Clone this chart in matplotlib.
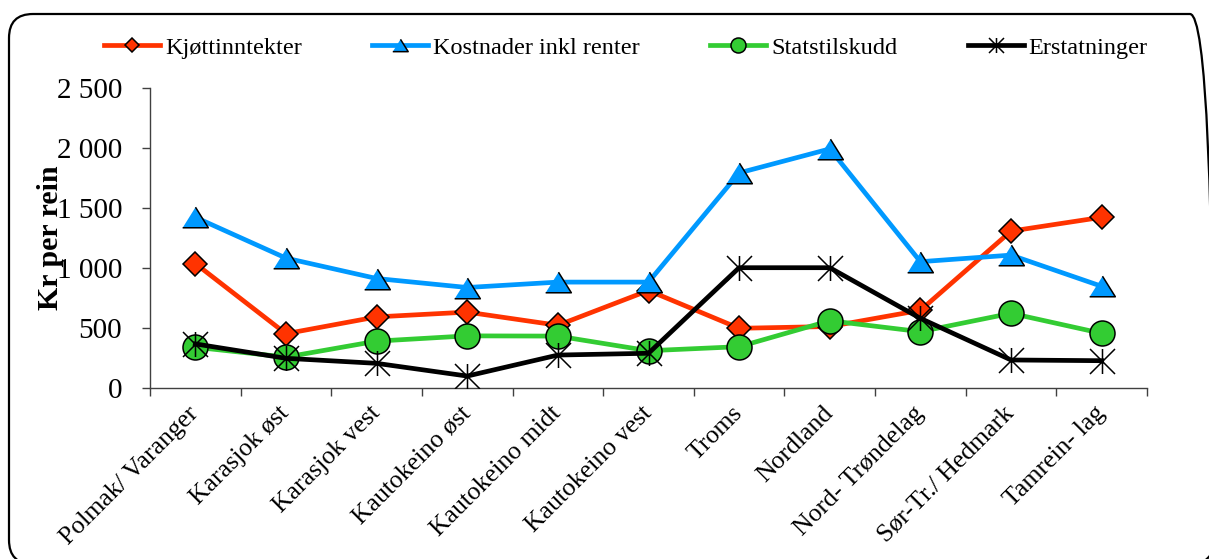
import matplotlib
matplotlib.use("Agg")
import matplotlib.pyplot as plt
from matplotlib.patches import FancyBboxPatch
from matplotlib.path import Path
from matplotlib.ticker import FixedLocator, FuncFormatter

categories = ["Polmak/ Varanger", "Karasjok øst", "Karasjok vest", "Kautokeino øst",
              "Kautokeino midt", "Kautokeino vest", "Troms", "Nordland",
              "Nord- Trøndelag", "Sør-Tr./ Hedmark", "Tamrein- lag"]
kjott = [1035, 450, 590, 630, 520, 810, 495, 510, 645, 1305, 1420]
kostnader = [1420, 1080, 910, 835, 880, 880, 1790, 1990, 1050, 1105, 845]
statstilskudd = [337, 255, 388, 432, 430, 308, 342, 558, 467, 620, 453]
erstatninger = [365, 245, 203, 97, 272, 287, 1000, 1000, 578, 231, 225]
yticks = [0, 500, 1000, 1500, 2000, 2500]

plt.rcParams['font.family'] = ['Liberation Serif', 'DejaVu Serif']

W, H = 1209, 559
fig = plt.figure(figsize=(W / 100, H / 100), dpi=100)

# rounded outer border
border = FancyBboxPatch((0.09, -0.05), 12.05, 5.50,
                        boxstyle="round,pad=0,rounding_size=0.24",
                        transform=fig.dpi_scale_trans, fill=False,
                        edgecolor='black', linewidth=1.6, zorder=0)
fig.patches.append(border)

ax = fig.add_axes([150 / W, 1 - 387.7 / H, (1147 - 150) / W, 300 / H])
x = list(range(len(categories)))

tri = [(-1, -0.8), (1, -0.8), (0, 0.8)]
star = Path([(0, -1), (0, 1), (-1, -1), (1, 1), (-1, 1), (1, -1)],
            [Path.MOVETO, Path.LINETO, Path.MOVETO, Path.LINETO, Path.MOVETO, Path.LINETO])

lw = 3.4
mew = 1.1
l1, = ax.plot(x, kjott, color='#FF3300', lw=lw, marker='D', ms=12.5,
              mfc='#FF3300', mec='black', mew=mew, label='Kjøttinntekter', zorder=3)
l2, = ax.plot(x, kostnader, color='#0099FF', lw=lw, marker=tri, ms=18.5,
              mfc='#0099FF', mec='black', mew=mew, label='Kostnader inkl renter', zorder=4)
l3, = ax.plot(x, statstilskudd, color='#33CC33', lw=lw, marker='o', ms=18,
              mfc='#33CC33', mec='black', mew=mew, label='Statstilskudd', zorder=5)
l4, = ax.plot(x, erstatninger, color='black', lw=lw, marker=star, ms=18,
              mfc='none', mec='black', mew=mew, label='Erstatninger', zorder=6)

ax.set_xlim(-0.5, len(categories) - 0.5)
ax.set_ylim(0, 2500)
ax.set_yticks(yticks)
ax.yaxis.set_major_formatter(FuncFormatter(lambda v, p: f"{int(v):,}".replace(",", " ")))
ax.set_xticks(x)
ax.set_xticklabels(categories, rotation=45, ha='right', va='center',
                   rotation_mode='anchor', fontsize=18.5)
ax.tick_params(axis='x', which='major', length=0, pad=16)
ax.xaxis.set_minor_locator(FixedLocator([i - 0.5 for i in range(len(categories) + 1)]))
ax.tick_params(axis='x', which='minor', length=6, width=1, color='#404040', direction='out')
ax.tick_params(axis='y', which='major', length=6, width=1, color='#404040',
               direction='out', labelsize=21, pad=14)

for s in ['top', 'right']:
    ax.spines[s].set_visible(False)
for s in ['left', 'bottom']:
    ax.spines[s].set_color('#404040')
    ax.spines[s].set_linewidth(1)

ax.set_ylabel('Kr per rein', fontsize=21.5, fontweight='bold')
ax.yaxis.set_label_coords(-0.086, 0.5)

handles = [l1, l2, l3, l4]
leg = fig.legend(handles=handles, loc='center', bbox_to_anchor=(626 / W, 1 - 48 / H),
                 ncol=4, frameon=False, fontsize=17.5, handlelength=2.3,
                 handletextpad=0.2, columnspacing=2.9, markerscale=0.6)

fig.savefig('out.png', dpi=100)
